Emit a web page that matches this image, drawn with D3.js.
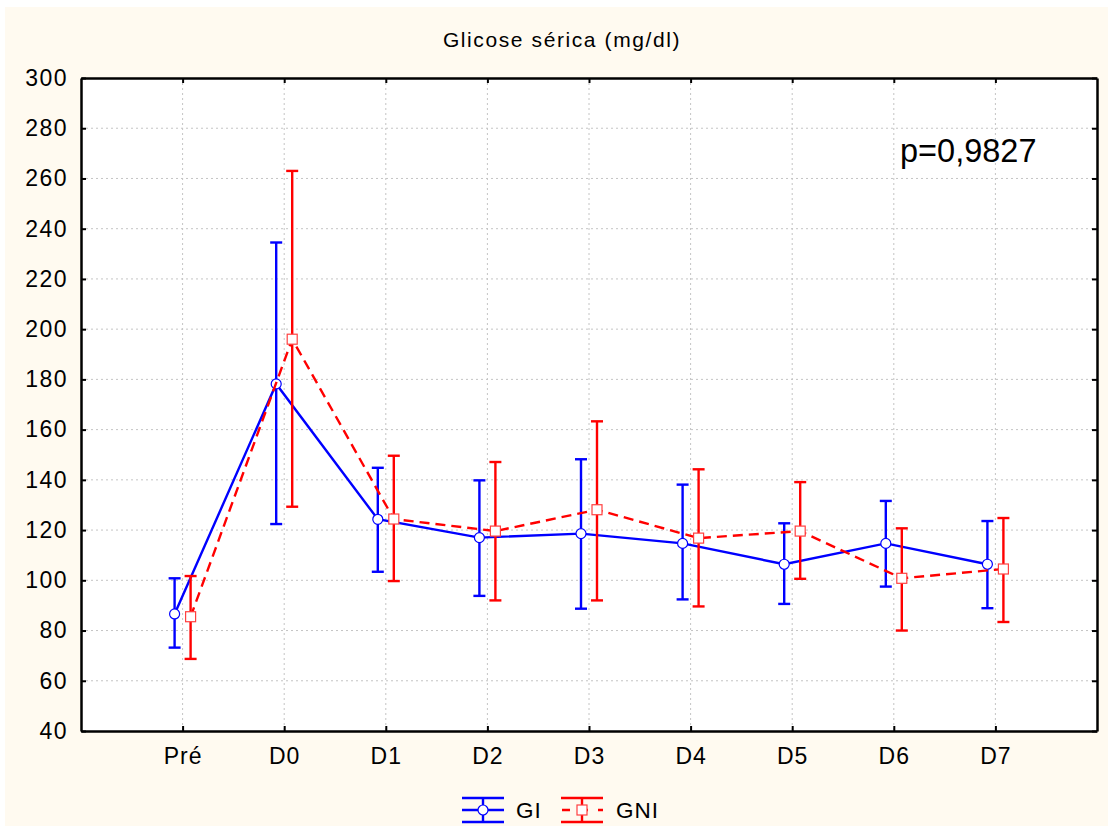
<!DOCTYPE html>
<html>
<head>
<meta charset="utf-8">
<script src="https://cdn.jsdelivr.net/npm/d3@7"></script>
<style>
  body { margin: 0; background: #fff; }
  svg text { font-family: "Liberation Sans", Arial, sans-serif; fill: #000; }
  .grid line { stroke: #c4c4c4; stroke-dasharray: 2,3; stroke-width: 1; }
</style>
</head>
<body>
<div id="chart"></div>
<script>
// categories and values
const days = ["Pré", "D0", "D1", "D2", "D3", "D4", "D5", "D6", "D7"];
const giMean = [86.6, 178.2, 124.3, 117, 118.6, 114.7, 106.4, 114.7, 106.4];
const giUp   = [100.8, 234.5, 144.8, 139.8, 148.2, 138.1, 122.7, 131.6, 123.6];
const giLow  = [73.2, 122.4, 103.4, 93.8, 88.7, 92.4, 90.6, 97.5, 88.9];
const gniMean = [85.5, 196, 124.4, 119.6, 128.1, 116.8, 119.6, 100.8, 104.5];
const gniUp   = [101.7, 263, 149.6, 147.1, 163.3, 144.2, 139.1, 120.7, 124.8];
const gniLow  = [68.7, 129.3, 99.7, 92, 92, 89.6, 100.6, 80, 83.4];
const yTicks = [40, 60, 80, 100, 120, 140, 160, 180, 200, 220, 240, 260, 280, 300];

const width = 1108, height = 827;
const margin = {top: 78, right: 11, bottom: 96, left: 81};
const iw = width - margin.left - margin.right;
const ih = height - margin.top - margin.bottom;

const svg = d3.select("#chart").append("svg")
  .attr("width", width)
  .attr("height", height);

svg.append("rect")
  .attr("x", 5).attr("y", 7)
  .attr("width", width - 5).attr("height", height - 8)
  .attr("fill", "#fffaf0");

const g = svg.append("g").attr("transform", `translate(${margin.left},${margin.top})`);

g.append("rect").attr("width", iw).attr("height", ih).attr("fill", "#fff");

let x = d3.scaleLinear().domain([-1, 9]).range([0, iw]);
let y = d3.scaleLinear().domain([40, 300]).range([ih, 0]);

// grid
g.append("g").attr("class", "grid")
  .selectAll("line.h").data(yTicks.slice(1, -1)).enter().append("line")
  .attr("x1", 0).attr("x2", iw)
  .attr("y1", d => y(d)).attr("y2", d => y(d));
g.select(".grid")
  .selectAll("line.v").data(days).enter().append("line")
  .attr("y1", 0).attr("y2", ih)
  .attr("x1", (d, i) => x(i)).attr("x2", (d, i) => x(i));

// axes
const yAxis = d3.axisLeft(y).tickValues(yTicks).tickSizeInner(-5).tickSizeOuter(0).tickPadding(13);
const yAxisR = d3.axisRight(y).tickValues(yTicks).tickSizeInner(-5).tickSizeOuter(0).tickFormat("");
const xAxis = d3.axisBottom(x).tickValues(d3.range(days.length)).tickSizeInner(-5).tickSizeOuter(0)
  .tickPadding(17).tickFormat(i => days[i]);
const xAxisT = d3.axisTop(x).tickValues(d3.range(days.length)).tickSizeInner(-5).tickSizeOuter(0).tickFormat("");

function styleAxis(sel) {
  sel.select(".domain").attr("stroke", "#000").attr("stroke-width", 2.5);
  sel.selectAll(".tick line").attr("stroke", "#000").attr("stroke-width", 2);
  sel.selectAll("text").attr("font-size", 23).style("letter-spacing", "1.5px").attr("fill", "#000");
}
g.append("g").call(yAxis).call(styleAxis);
g.append("g").attr("transform", `translate(${iw},0)`).call(yAxisR).call(styleAxis);
g.append("g").attr("transform", `translate(0,${ih})`).call(xAxis).call(styleAxis)
  .selectAll("text").attr("font-size", 23).style("letter-spacing", "1px");
g.append("g").call(xAxisT).call(styleAxis);

// series
const series = [
  {name: "GI", mean: giMean, up: giUp, low: giLow, color: "#0000ff", off: -8, dash: null, marker: "circle"},
  {name: "GNI", mean: gniMean, up: gniUp, low: gniLow, color: "#ff0000", off: 8, dash: "10,6", marker: "square"}
];

g.append("clipPath").attr("id", "clip").append("rect").attr("width", iw).attr("height", ih);
const plot = g.append("g").attr("clip-path", "url(#clip)");

series.forEach(s => {
  const pts = s.mean.map((v, i) => ({i, v, up: s.up[i], low: s.low[i]}));
  const line = d3.line().x(d => x(d.i) + s.off).y(d => y(d.v));
  plot.append("path").datum(pts)
    .attr("d", line)
    .attr("fill", "none")
    .attr("stroke", s.color)
    .attr("stroke-width", 2.4)
    .attr("stroke-dasharray", s.dash);

  const eb = plot.append("g").selectAll("g").data(pts).enter().append("g")
    .attr("stroke", s.color).attr("stroke-width", 2.4);
  eb.append("line")
    .attr("x1", d => x(d.i) + s.off).attr("x2", d => x(d.i) + s.off)
    .attr("y1", d => y(d.up)).attr("y2", d => y(d.low));
  eb.append("line")
    .attr("x1", d => x(d.i) + s.off - 6).attr("x2", d => x(d.i) + s.off + 6)
    .attr("y1", d => y(d.up)).attr("y2", d => y(d.up));
  eb.append("line")
    .attr("x1", d => x(d.i) + s.off - 6).attr("x2", d => x(d.i) + s.off + 6)
    .attr("y1", d => y(d.low)).attr("y2", d => y(d.low));

  if (s.marker === "circle") {
    plot.append("g").selectAll("circle").data(pts).enter().append("circle")
      .attr("cx", d => x(d.i) + s.off).attr("cy", d => y(d.v)).attr("r", 5)
      .attr("fill", "#fff").attr("stroke", s.color).attr("stroke-width", 1.2);
  } else {
    plot.append("g").selectAll("rect").data(pts).enter().append("rect")
      .attr("x", d => x(d.i) + s.off - 5).attr("y", d => y(d.v) - 5)
      .attr("width", 10).attr("height", 10)
      .attr("fill", "#fff").attr("stroke", "#ff4040").attr("stroke-width", 1.2);
  }
});

// title and p value
svg.append("text")
  .attr("x", 562).attr("y", 47)
  .attr("text-anchor", "middle")
  .attr("font-size", 21)
  .style("letter-spacing", "1.6px")
  .text("Glicose sérica (mg/dl)");

svg.append("text")
  .attr("x", 900).attr("y", 162)
  .attr("font-size", 32.5)
  .text("p=0,9827");

// legend
const legend = svg.append("g");
const legendItems = [
  {s: series[0], cx: 483, tx: 516},
  {s: series[1], cx: 582, tx: 616}
];
legendItems.forEach(it => {
  const s = it.s, lg = legend.append("g").attr("stroke", s.color).attr("stroke-width", 2.4);
  lg.append("line").attr("x1", it.cx - 21).attr("x2", it.cx + 21).attr("y1", 798).attr("y2", 798);
  lg.append("line").attr("x1", it.cx - 21).attr("x2", it.cx + 21).attr("y1", 822).attr("y2", 822);
  lg.append("line").attr("x1", it.cx).attr("x2", it.cx).attr("y1", 798).attr("y2", 822);
  lg.append("line").attr("x1", it.cx - 21).attr("x2", it.cx + 21).attr("y1", 810).attr("y2", 810)
    .attr("stroke-dasharray", s.dash ? "8,10" : null).attr("stroke-dashoffset", s.dash ? -1 : null);
  if (s.marker === "circle") {
    lg.append("circle").attr("cx", it.cx).attr("cy", 810).attr("r", 5)
      .attr("fill", "#fff").attr("stroke-width", 1.2);
  } else {
    lg.append("rect").attr("x", it.cx - 5).attr("y", 805).attr("width", 10).attr("height", 10)
      .attr("fill", "#fff").attr("stroke", "#ff4040").attr("stroke-width", 1.2);
  }
  legend.append("text").attr("x", it.tx).attr("y", 818).attr("font-size", 22.5)
    .style("letter-spacing", "1px").text(s.name);
});
</script>
</body>
</html>
